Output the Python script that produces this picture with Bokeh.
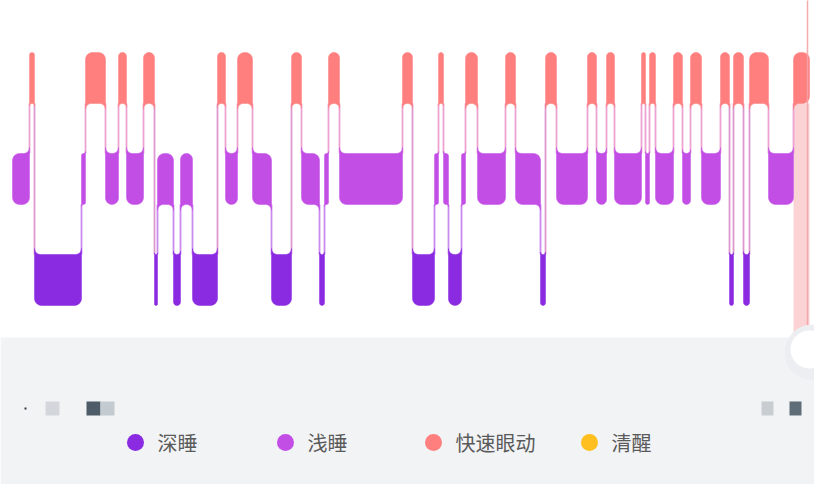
import math
from bokeh.plotting import figure
from bokeh.models import Range1d, BoxAnnotation
from bokeh.core.properties import value
from bokeh.embed import file_html
from bokeh.resources import INLINE

# ---------------- data ----------------
# sleep stage of each consecutive segment (D = 深睡, L = 浅睡, R = 快速眼动)
stages = ["L", "R", "D", "L", "R", "L", "R", "L", "R", "D",
          "L", "D", "L", "D", "R", "L", "R", "L", "D", "R",
          "L", "D", "L", "R", "L", "R", "D", "L", "R", "L",
          "D", "L", "R", "L", "R", "L", "D", "R", "L", "R",
          "L", "R", "L", "R", "L", "R", "L", "R", "L", "R",
          "L", "R", "D", "R", "D", "R", "L", "R"]
# segment edges (minutes from sleep onset)
edges = [0, 17, 22, 69, 73, 93, 106, 114, 131, 142, 145, 161, 168, 180, 205,
         213, 225, 240, 259, 279, 289, 307, 312, 316, 327, 390, 400, 422, 426,
         431, 436, 449, 453, 465, 493, 503, 528, 533, 544, 575, 584, 594, 602,
         629, 633, 637, 643, 661, 670, 678, 689, 708, 717, 721, 731, 737, 756,
         781, 797]
selected_segment = 57          # highlighted (last REM) segment
cursor_minute = 795

legend_labels = ["深睡", "浅睡", "快速眼动", "清醒"]
stage_codes = ["D", "L", "R", "W"]
stage_colors = ["#8a2be2", "#c24ee6", "#ff7f7f", "#ffbf1f"]

# ---------------- styling / helpers ----------------
LEVEL = {"D": 0, "L": 1, "R": 2, "W": 3}
COLOR = dict(zip(stage_codes, stage_colors))
PX_PER_LEVEL = 101.0
HALF_PX = 25.5
H = HALF_PX / PX_PER_LEVEL
ROUND = 7.0
FLARE = 6.0


def hex2rgb(c):
    c = c.lstrip("#")
    return tuple(int(c[i:i + 2], 16) for i in (0, 2, 4))


def rgb2hex(t):
    return "#%02x%02x%02x" % tuple(int(round(v)) for v in t)


def mix(c1, c2, f):
    a, b = hex2rgb(c1), hex2rgb(c2)
    return rgb2hex(tuple(a[i] * (1 - f) + b[i] * f for i in range(3)))


def arc(cx, cy, rad, a0, a1, n=8):
    pts = []
    for k in range(n):
        th = math.radians(a0 + (a1 - a0) * k / (n - 1))
        pts.append((cx + rad * math.cos(th), cy + rad * math.sin(th)))
    return pts


p = figure(width=814, height=484, output_backend="svg", toolbar_location=None,
           x_range=Range1d(-12, 802), y_range=Range1d(-2.025, 2.767),
           x_axis_type=None, y_axis_type=None, min_border=0,
           background_fill_color="white", border_fill_color="white")
p.outline_line_color = None
p.grid.visible = False


def py(page_y):   # layout helper: page pixel row -> level units
    return (287.5 - page_y) / PX_PER_LEVEL


def px(page_x):
    return page_x - 20


# bottom grey panel
p.add_layout(BoxAnnotation(top=py(345), fill_color="#f2f3f5", fill_alpha=1.0,
                           line_alpha=0, level="underlay"))

# highlight band under selected segment
sl, sr = edges[selected_segment], edges[selected_segment + 1]
p.quad(left=sl, right=sr, top=LEVEL[stages[selected_segment]] - H, bottom=py(345),
       fill_color="#fbd3d5", line_alpha=0)

# connectors between consecutive stages
cx, cy, cc = [], [], []
for i in range(len(stages) - 1):
    a, b = stages[i], stages[i + 1]
    up, lo = (a, b) if LEVEL[a] > LEVEL[b] else (b, a)
    x = edges[i + 1]
    cx.append([x, x])
    cy.append([LEVEL[up] - H, LEVEL[lo] + H])
    cc.append(mix(mix(COLOR[up], COLOR[lo], 0.5), "#ffffff", 0.4))
p.multi_line(xs=cx, ys=cy, line_color=cc, line_width=1.8, line_cap="butt")

# stage bars with rounded corners and flares toward connectors
bx, by, bc = [], [], []
for i, s in enumerate(stages):
    l, r = edges[i], edges[i + 1]
    L = LEVEL[s]
    w = r - l
    rr = min(ROUND, w / 2.0)
    fr = min(FLARE, w / 2.0)
    T, B = -HALF_PX, HALF_PX
    prev_lv = LEVEL[stages[i - 1]] if i > 0 else None
    next_lv = LEVEL[stages[i + 1]] if i < len(stages) - 1 else None
    tl_flare = prev_lv is not None and prev_lv > L
    bl_flare = prev_lv is not None and prev_lv < L
    tr_flare = next_lv is not None and next_lv > L
    br_flare = next_lv is not None and next_lv < L
    pts = []
    pts += arc(l + fr, T - fr, fr, 180, 90) if tl_flare else arc(l + rr, T + rr, rr, 180, 270)
    pts += arc(r - fr, T - fr, fr, 90, 0) if tr_flare else arc(r - rr, T + rr, rr, 270, 360)
    pts += arc(r - fr, B + fr, fr, 0, -90) if br_flare else arc(r - rr, B - rr, rr, 0, 90)
    pts += arc(l + fr, B + fr, fr, 270, 180) if bl_flare else arc(l + rr, B - rr, rr, 90, 180)
    bx.append([q[0] for q in pts])
    by.append([L - q[1] / PX_PER_LEVEL for q in pts])
    bc.append(COLOR[s])
p.patches(xs=bx, ys=by, fill_color=bc, line_color=bc, line_width=0.5)

# cursor line
p.segment(x0=[cursor_minute], y0=[3.0], x1=[cursor_minute], y1=[py(345)],
          line_color="#f4a3a6", line_width=1.5, line_alpha=0.9)

# slider handle
p.scatter(x=[px(820)], y=[py(360)], size=56, marker="circle",
          fill_color="#eceef1", line_alpha=0)
p.scatter(x=[px(817)], y=[py(357)], size=38, marker="circle",
          fill_color="#ffffff", line_alpha=0)

# pixelated (redacted) time labels
for (x0, x1, col) in [(53, 67, "#d3d7db"), (94, 108, "#4e5b68"), (108, 122, "#c3cbd0"),
                      (769, 781, "#c8cdd2"), (797, 809, "#5f6d79"), (32, 34, "#333a40")]:
    hh = 7 if x1 - x0 > 3 else 1
    p.add_layout(BoxAnnotation(left=px(x0), right=px(x1), top=py(416 - hh),
                               bottom=py(416 + hh), fill_color=col, fill_alpha=1.0,
                               line_alpha=0))

# legend
leg_x = [px(143), px(293), px(441), px(597)]
leg_y = [py(450)] * 4
p.scatter(x=leg_x, y=leg_y, size=17, marker="circle", fill_color=stage_colors,
          line_alpha=0)
p.text(x=[v + 22 for v in leg_x], y=leg_y, text=legend_labels,
       text_font=value("Noto Sans CJK SC"), text_font_size="20px",
       text_baseline="middle", text_align="left", text_color="#5a5a5a")

open("out.html", "w").write(file_html(p, INLINE))
